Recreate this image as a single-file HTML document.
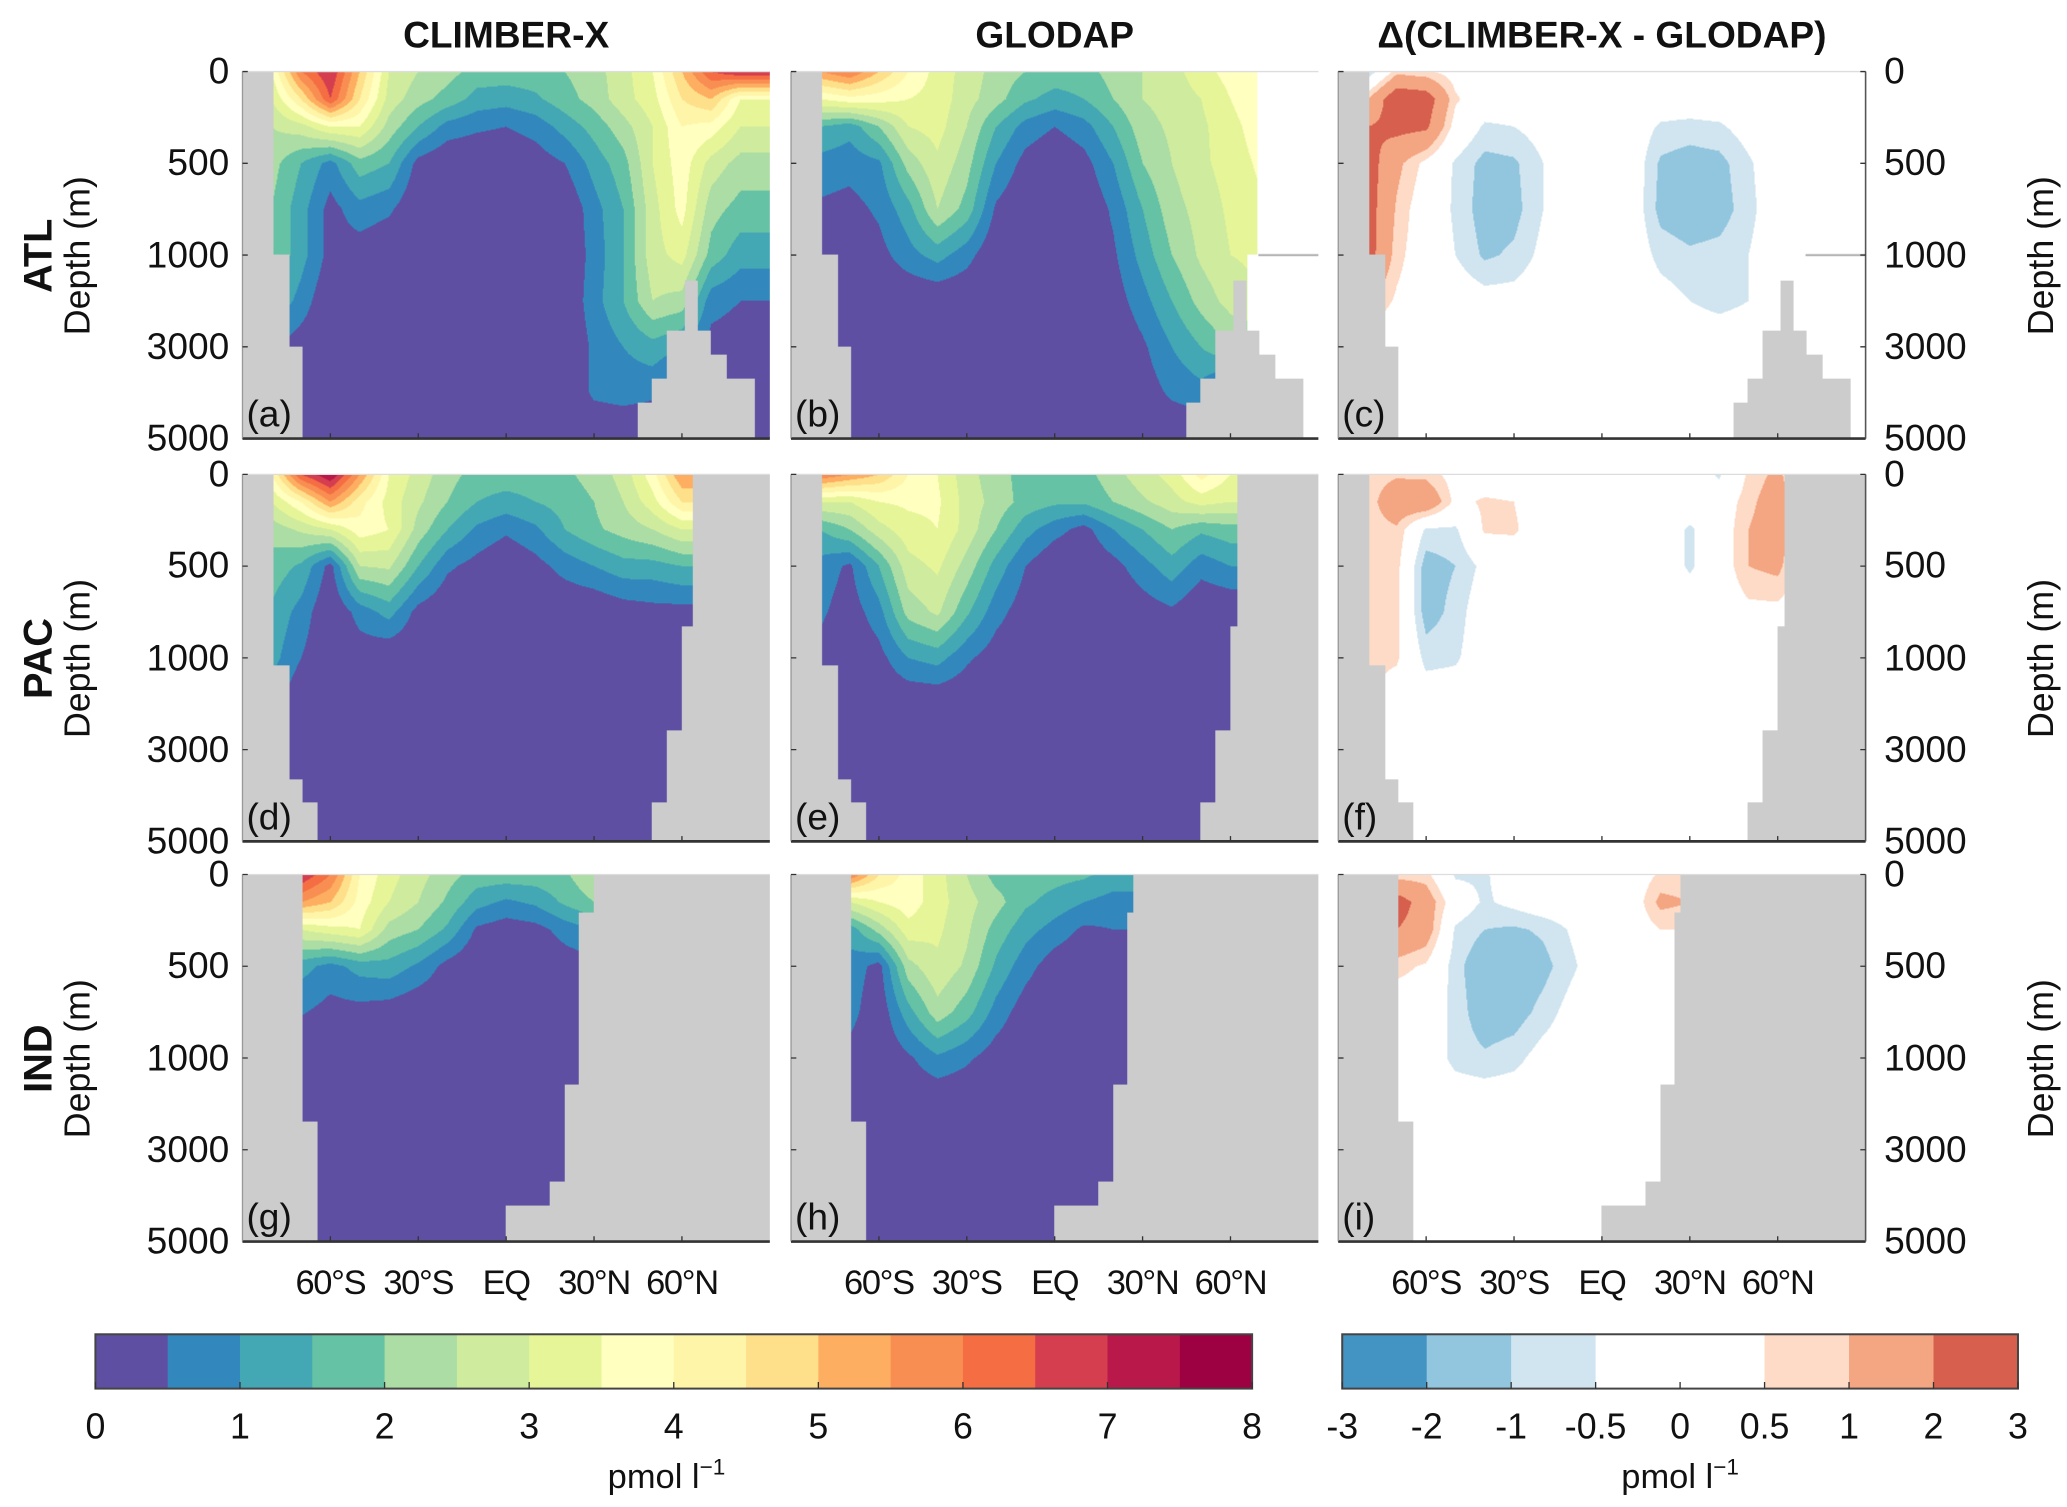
<!DOCTYPE html>
<html><head><meta charset="utf-8">
<style>
html,body{margin:0;padding:0;background:#fff;}
#wrap{width:2067px;height:1507px;overflow:hidden;position:relative;background:#fff;}
#stage{position:absolute;left:0;top:0;width:1560px;height:1138px;transform:scale(1.325);transform-origin:0 0;font-family:"Liberation Sans",sans-serif;color:#111;}
.t{position:absolute;white-space:nowrap;}
canvas{position:absolute;}
</style></head>
<body>
<div id="wrap">
<div id="stage"></div>
</div>
<script>
// ---------- DATA ----------
const latNodes = [-80,-70,-60,-50,-40,-30,-20,-10,0,10,20,30,40,50,60,70,80];
const depthNodes = [0,150,300,500,750,1000,2000,3000,4000,5000];

const fieldA = [
 [3.5,6,7,5,3,2.5,2.2,1.8,1.8,1.8,2,2.3,2.8,3.5,5,6.5,7],
 [3,4.5,6.5,4.5,2.8,2.2,1.8,1.3,1.2,1.4,1.8,2.2,2.8,3.3,4.5,5,3.5],
 [2.5,2.8,3.5,3.5,2.3,1.5,0.8,0.6,0.5,0.7,1.2,1.7,2.3,3,4,3.8,3],
 [2.2,1.5,0.8,1.8,1.5,0.3,0,0,0,0.2,0.5,1.2,1.8,3,3.8,2.8,2.3],
 [2,1.2,0.3,0.8,0.6,0,0,0,0,0,0,0.8,1.5,2.8,3.7,2.2,1.8],
 [2,1.2,0.3,0.2,0,0,0,0,0,0,0,0.7,1.5,2.8,3.2,1.8,1.2],
 [1.5,0.8,0,0,0,0,0,0,0,0,0,0.8,1.5,2.5,2.3,0.7,0.5],
 [0.5,0.2,0,0,0,0,0,0,0,0,0,0.6,1,1.3,1,0.3,0.2],
 [0,0,0,0,0,0,0,0,0,0,0,0.6,0.7,0.6,0,0,0],
 [0,0,0,0,0,0,0,0,0,0,0,0,0,0,0,0,0]
];
const fieldB = [
 [5.5,6,5,4,3.3,2.8,2.3,2,1.8,1.8,2.2,2.5,2.8,3.3,3.7,4,4],
 [3.5,3.8,3.7,3.5,3.3,2.7,2.2,1.6,1.3,1.5,2,2.5,2.7,3,3.5,4,4],
 [1.5,1.2,2,3,3.2,2.5,1.5,0.8,0.5,0.8,1.5,2.3,2.6,2.9,3.3,3.8,3.8],
 [0.8,0.7,0.9,2.2,2.9,2.2,1,0.3,0,0.3,1,2,2.5,2.9,3.2,3.6,3.6],
 [0.4,0.3,0.6,1.3,2.5,1.8,0.4,0,0,0,0.6,1.5,2.3,2.7,3.1,3.4,3.4],
 [0.2,0,0.3,0.8,1.2,0.7,0,0,0,0,0.4,1.2,2,2.6,3,3.1,3.1],
 [0,0,0,0,0,0,0,0,0,0,0.2,0.8,1.5,2.2,2.7,3,3],
 [0,0,0,0,0,0,0,0,0,0,0,0.4,1,1.5,2,2,2],
 [0,0,0,0,0,0,0,0,0,0,0,0.2,0.6,0.8,0,0,0],
 [0,0,0,0,0,0,0,0,0,0,0,0,0,0,0,0,0]
];
const fieldC = [
 [-1,0.8,0.6,0.2,0,0,0,0,0,0,0,0,0,0,0,0.2,1.2],
 [1,2.8,2.6,0.6,0,0,0,0,0,0,0,0,0,0,0,0,0.8],
 [2,2.3,2.2,0.2,-0.6,-0.5,-0.2,0,0,0,-0.6,-0.7,-0.6,-0.2,0,0,0.6],
 [2.5,1.2,0.3,-0.6,-1.2,-1.1,-0.5,0,0,0,-1.1,-1.3,-1.2,-0.6,0,0,0.4],
 [2.5,0.9,0,-0.6,-1.3,-1.2,-0.5,0,0,0,-1.2,-1.4,-1.3,-0.7,0,0,0.3],
 [2.5,0.7,0,-0.5,-1.1,-0.9,-0.3,0,0,0,-0.7,-0.9,-0.8,-0.5,0,0,0],
 [1,0.4,0,0,-0.2,-0.2,0,0,0,0,-0.2,-0.5,-0.7,-0.5,0,0,0],
 [0,0,0,0,0,0,0,0,0,0,0,0,0,0,0,0,0],
 [0,0,0,0,0,0,0,0,0,0,0,0,0,0,0,0,0],
 [0,0,0,0,0,0,0,0,0,0,0,0,0,0,0,0,0]
];
const fieldD = [
 [4,6.5,7.5,5.5,3.5,2.8,2.2,1.8,1.8,1.8,1.9,2.2,2.7,3.8,5.5,5.5,5.5],
 [3,4,5.5,4.2,3.3,2.6,2,1.5,1.3,1.5,1.7,2,2.5,3.3,4.5,4.5,4.5],
 [2.2,2.6,3,3.8,3.5,2.3,1.5,0.9,0.6,0.9,1.5,1.9,2.2,2.5,3,3,3],
 [1.8,1.4,0.3,2.5,2.6,1.5,0.6,0.3,0,0.3,0.7,1,1.3,1.3,1.5,1.5,1.5],
 [1.4,0.8,0,0.7,1.2,0.3,0,0,0,0,0,0,0.2,0.3,0.3,0.3,0.3],
 [1.2,0.5,0,0.2,0,0,0,0,0,0,0,0,0,0,0,0,0],
 [0.7,0,0,0,0,0,0,0,0,0,0,0,0,0,0,0,0],
 [0,0,0,0,0,0,0,0,0,0,0,0,0,0,0,0,0],
 [0,0,0,0,0,0,0,0,0,0,0,0,0,0,0,0,0],
 [0,0,0,0,0,0,0,0,0,0,0,0,0,0,0,0,0]
];
const fieldE = [
 [6,5.5,5,4,3.5,2.7,2.2,1.8,1.8,1.8,2.3,2.8,3.2,4.2,3.5,3.5,3.5],
 [3,3,3.5,3.6,3.6,2.8,2.3,1.8,1.6,1.6,2,2.4,2.8,3.2,3,3,3],
 [1.5,2,2.8,3.3,3.5,2.8,2,1.2,0.7,0.3,1,1.5,2,1.6,1.8,1.8,1.8],
 [0.8,0.4,1.5,2.8,3.1,2.3,1.3,0.5,0,0,0.3,0.8,1.3,0.7,1,1,1],
 [0.6,0.2,0.8,2.2,2.6,1.6,0.7,0.2,0,0,0,0.2,0.4,0,0,0,0],
 [0.3,0,0.3,1,1.2,0.6,0.2,0,0,0,0,0,0,0,0,0,0],
 [0,0,0,0,0,0,0,0,0,0,0,0,0,0,0,0,0],
 [0,0,0,0,0,0,0,0,0,0,0,0,0,0,0,0,0],
 [0,0,0,0,0,0,0,0,0,0,0,0,0,0,0,0,0],
 [0,0,0,0,0,0,0,0,0,0,0,0,0,0,0,0,0]
];
const fieldF = [
 [0.7,0.9,0.8,0.2,0,0,0,0,0,0,0,0,-0.6,0.6,1.2,0,0],
 [0.7,1.6,1.8,0.3,0.6,0.5,0,0,0,0,0,0,0,0.8,1.5,0,0],
 [0.7,0.9,-0.6,-0.6,0.6,0.6,0,0,0,0,0,-0.6,0,1,1.5,0,0],
 [0.7,0.7,-1.3,-1,-0.3,0,0,0,0,0,0,-0.6,0,1,1.2,0,0],
 [0.7,0.7,-1.3,-0.8,0,0,0,0,0,0,0,0,0,0.3,0.3,0,0],
 [0.7,0.6,-0.7,-0.6,0,0,0,0,0,0,0,0,0,0,0,0,0],
 [0.6,0,0,0,0,0,0,0,0,0,0,0,0,0,0,0,0],
 [0,0,0,0,0,0,0,0,0,0,0,0,0,0,0,0,0],
 [0,0,0,0,0,0,0,0,0,0,0,0,0,0,0,0,0],
 [0,0,0,0,0,0,0,0,0,0,0,0,0,0,0,0,0]
];
const fieldG = [
 [7,7,6,4,3.2,2.7,2.2,1.8,1.8,1.8,1.9,2.5,2.5,2.5,2.5,2.5,2.5],
 [5.5,5.5,5,3.8,3,2.5,1.9,1.2,0.9,1.1,1.6,2,2,2,2,2,2],
 [3,3,3.3,3.5,2.3,2,1.4,0.4,0.2,0.3,0.7,1,1,1,1,1,1],
 [1.2,1.2,0.8,1.2,1.3,0.9,0.3,0,0,0,0.2,0.3,0.3,0.3,0.3,0.3,0.3],
 [0.55,0.55,0.3,0.3,0.2,0,0,0,0,0,0,0,0,0,0,0,0],
 [0,0,0,0,0,0,0,0,0,0,0,0,0,0,0,0,0],
 [0,0,0,0,0,0,0,0,0,0,0,0,0,0,0,0,0],
 [0,0,0,0,0,0,0,0,0,0,0,0,0,0,0,0,0],
 [0,0,0,0,0,0,0,0,0,0,0,0,0,0,0,0,0],
 [0,0,0,0,0,0,0,0,0,0,0,0,0,0,0,0,0]
];
const fieldH = [
 [6,6,4.5,3.8,3.2,2.5,1.8,1.8,1.7,1.6,1.3,1.3,1.3,1.3,1.3,1.3,1.3],
 [3,3,3.5,3.8,3.2,2.7,2.2,1.6,1.3,1,0.8,0.8,0.8,0.8,0.8,0.8,0.8],
 [1.2,1.2,2.2,3.3,3.1,2.6,1.8,1.2,0.8,0.4,0.5,0.5,0.5,0.5,0.5,0.5,0.5],
 [0.8,0.8,0.3,2.3,2.9,2.4,1.4,0.7,0.2,0,0,0,0,0,0,0,0],
 [0.7,0.7,0.1,1.3,2.3,1.7,0.8,0.2,0,0,0,0,0,0,0,0,0],
 [0.3,0.3,0,0.4,0.9,0.6,0.2,0,0,0,0,0,0,0,0,0,0],
 [0,0,0,0,0,0,0,0,0,0,0,0,0,0,0,0,0],
 [0,0,0,0,0,0,0,0,0,0,0,0,0,0,0,0,0],
 [0,0,0,0,0,0,0,0,0,0,0,0,0,0,0,0,0],
 [0,0,0,0,0,0,0,0,0,0,0,0,0,0,0,0,0]
];
const fieldI = [
 [0.7,0.7,0.7,-0.6,-0.6,0,0,0,0,0,0.6,0.6,0,0,0,0,0],
 [2.5,2.5,1.5,0,-0.6,-0.3,0,0,0,0,1.2,1,0,0,0,0,0],
 [2,2,1.5,-0.6,-1,-1.1,-0.9,-0.4,0,0,0.5,0.5,0,0,0,0,0],
 [0.7,0.7,0.4,-0.8,-1.5,-1.5,-1.2,-0.6,0,0,0,0,0,0,0,0,0],
 [0,0,0,-0.7,-1.4,-1.3,-0.8,-0.2,0,0,0,0,0,0,0,0,0],
 [0,0,0,-0.7,-0.9,-0.7,-0.2,0,0,0,0,0,0,0,0,0,0],
 [0,0,0,0,0,0,0,0,0,0,0,0,0,0,0,0,0],
 [0,0,0,0,0,0,0,0,0,0,0,0,0,0,0,0,0],
 [0,0,0,0,0,0,0,0,0,0,0,0,0,0,0,0,0],
 [0,0,0,0,0,0,0,0,0,0,0,0,0,0,0,0,0]
];

// land: [lat1, lat2, depthTop, depthBottom]
const landATL = [[-90,-80,0,1000],[-90,-74.5,1000,3000],[-90,-70,3000,5000],
 [61,65,1560,2650],[55,69.5,2650,3190],[55,75,3190,3700],[50,84.6,3700,4230],[45,84.6,4230,5000]];
const landPAC = [[-90,-80,0,1180],[-90,-74.5,1180,3660],[-90,-70,3660,4170],[-90,-65,4170,5000],
 [64,90,0,830],[60,90,830,2590],[55,90,2590,4170],[50,90,4170,5000]];
const landPACobs = [[-90,-80,0,1180],[-90,-74.5,1180,3660],[-90,-70,3660,4170],[-90,-65,4170,5000],
 [62.6,90,0,830],[60,90,830,2590],[55,90,2590,4170],[50,90,4170,5000]];
const landIND = [[-90,-70,0,2400],[-90,-65,2400,5000],
 [30,90,0,210],[25,90,210,1580],[20,90,1580,3700],[15,90,3700,4230],[0,90,4230,5000]];
const landINDobs = [[-90,-70,0,2400],[-90,-65,2400,5000],
 [27,90,0,210],[25,90,210,1580],[20,90,1580,3700],[15,90,3700,4230],[0,90,4230,5000]];
const noDataATL = [[69.5,90,0,1000],[66,90,1000,5000]];

const absLevels = [0,0.5,1,1.5,2,2.5,3,3.5,4,4.5,5,5.5,6,6.5,7,7.5,8];
const absColors = ["#5e4fa2","#3288bd","#43a8b4","#66c2a5","#abdda4","#cfeb9e","#e6f598","#ffffbf","#fff5a8","#fee08b","#fdae61","#f98e52","#f46d43","#d53e4f","#b8194a","#9e0142"];
const absTicks = ["0","1","2","3","4","5","6","7","8"];
const diffLevels = [-3,-2,-1,-0.5,0,0.5,1,2,3];
const diffColors = ["#4393c3","#92c5de","#d1e5f0","#ffffff","#ffffff","#fddbc7","#f4a582","#d6604d"];
const diffTicks = ["-3","-2","-1","-0.5","0","0.5","1","2","3"];
const latTicks = [-60,-30,0,30,60];
const latTickLabels = ["60°S","30°S","EQ","30°N","60°N"];
const depthTicks = [0,500,1000,3000,5000];

// ---------- LAYOUT ----------
const stage = document.getElementById('stage');
const colX = [183,597,1010], rowY = [54,358,660], PW = 398, PH = 277;
const RES = 1.325;
function depthFrac(d){ return d<=1000 ? d/2000 : 0.5+(d-1000)/8000; }
function fracDepth(f){ return f<=0.5 ? f*2000 : 1000+(f-0.5)*8000; }
function xOf(col,lat){ return colX[col]+(lat+90)/180*PW; }
function yOf(row,d){ return rowY[row]+depthFrac(d)*PH; }

function sample(field, lat, d){
  let li = 0, lt;
  if(lat<=latNodes[0]){ li=0; lt=0; }
  else if(lat>=latNodes[latNodes.length-1]){ li=latNodes.length-2; lt=1; }
  else { while(latNodes[li+1]<lat) li++; lt=(lat-latNodes[li])/(latNodes[li+1]-latNodes[li]); }
  let di=0; while(di<depthNodes.length-2 && depthNodes[di+1]<d) di++;
  let dt=(d-depthNodes[di])/(depthNodes[di+1]-depthNodes[di]); dt=Math.max(0,Math.min(1,dt));
  const a=field[di][li], b=field[di][li+1], c=field[di+1][li], e=field[di+1][li+1];
  return (a*(1-lt)+b*lt)*(1-dt)+(c*(1-lt)+e*lt)*dt;
}
function colorFor(v, levels, colors){
  for(let i=0;i<colors.length;i++){ if(v<levels[i+1]) return colors[i]; }
  return colors[colors.length-1];
}
function hexRGB(h){ return [parseInt(h.substr(1,2),16),parseInt(h.substr(3,2),16),parseInt(h.substr(5,2),16)]; }

function addText(txt, x, y, size, opts){
  const el=document.createElement('div');
  el.className='t'; el.textContent=txt;
  el.style.fontSize=size+'px';
  el.style.left=x+'px'; el.style.top=y+'px';
  if(opts&&opts.bold) el.style.fontWeight='bold';
  if(opts&&opts.anchor==='middle') el.style.transform='translate(-50%,-50%)';
  if(opts&&opts.anchor==='right') el.style.transform='translate(-100%,-50%)';
  if(opts&&opts.anchor==='left') el.style.transform='translate(0,-50%)';
  if(opts&&opts.rot) el.style.transform='translate(-50%,-50%) rotate(-90deg)';
  stage.appendChild(el);
  return el;
}

function drawPanel(col,row,field,levels,colors,land,noData,letter,name){
  const cv=document.createElement('canvas');
  const cw=Math.round(PW*RES), ch=Math.round(PH*RES);
  cv.width=cw; cv.height=ch;
  cv.style.left=colX[col]+'px'; cv.style.top=rowY[row]+'px';
  cv.style.width=PW+'px'; cv.style.height=PH+'px';
  
  
  stage.appendChild(cv);
  const ctx=cv.getContext('2d');
  const img=ctx.createImageData(cw,ch);
  const cache={};
  for(let py=0;py<ch;py++){
    const d=fracDepth((py+0.5)/ch);
    for(let px=0;px<cw;px++){
      const lat=-90+(px+0.5)/cw*180;
      const v=sample(field,lat,d);
      const c=colorFor(v,levels,colors);
      const rgb=cache[c]||(cache[c]=hexRGB(c));
      const k=(py*cw+px)*4;
      img.data[k]=rgb[0]; img.data[k+1]=rgb[1]; img.data[k+2]=rgb[2]; img.data[k+3]=255;
    }
  }
  ctx.putImageData(img,0,0);
  function rect(r,fill){
    const x1=(r[0]+90)/180*cw, x2=(r[1]+90)/180*cw;
    const y1=depthFrac(r[2])*ch, y2=depthFrac(r[3])*ch;
    ctx.fillStyle=fill; ctx.fillRect(Math.floor(x1),Math.floor(y1),Math.ceil(x2-x1)+1,Math.ceil(y2-y1)+1);
  }
  if(noData){ noData.forEach(r=>rect(r,'#ffffff'));
    ctx.strokeStyle='#999'; ctx.lineWidth=1.5; ctx.beginPath();
    const y=depthFrac(1000)*ch; ctx.moveTo((69.5+90)/180*cw,y); ctx.lineTo(cw,y); ctx.stroke(); }
  land.forEach(r=>rect(r,'#cccccc'));

  const svgNS='http://www.w3.org/2000/svg';
  const svg=document.createElementNS(svgNS,'svg');
  svg.setAttribute('width',PW+20); svg.setAttribute('height',PH+10);
  svg.style.position='absolute'; svg.style.left=(colX[col]-10)+'px'; svg.style.top=(rowY[row]-5)+'px';
  
  
  const ox=10, oy=5;
  function line(x1,y1,x2,y2,st,w){ const l=document.createElementNS(svgNS,'line');
    l.setAttribute('x1',x1);l.setAttribute('y1',y1);l.setAttribute('x2',x2);l.setAttribute('y2',y2);
    l.setAttribute('stroke',st);l.setAttribute('stroke-width',w); svg.appendChild(l); return l; }
  line(ox,oy+PH,ox+PW,oy+PH,'#333',2);
  line(ox,oy,ox+PW,oy,'#ddd',1);
  line(ox,oy,ox,oy+PH,'#999',1);
  if(col===2) line(ox+PW,oy,ox+PW,oy+PH,'#555',1.2);
  latTicks.forEach(lt=>{ const x=ox+(lt+90)/180*PW; line(x,oy+PH,x,oy+PH-4,'#333',1); });
  depthTicks.forEach(dt=>{ const y=oy+depthFrac(dt)*PH; line(ox,y,ox+4,y,'#333',1);
    if(col===2) line(ox+PW,y,ox+PW-4,y,'#333',1); });
  stage.appendChild(svg);
  const lb=addText('('+letter+')', colX[col]+3, rowY[row]+PH-18, 28, {anchor:'left'});
  
  
}

const titles=["CLIMBER-X","GLODAP","Δ(CLIMBER-X - GLODAP)"];
titles.forEach((t,i)=>{ const el=addText(t, colX[i]+PW/2, 27, 28, {bold:true,anchor:'middle'});
  
   });

const rowNames=["ATL","PAC","IND"];
rowNames.forEach((r,i)=>{
  const cy=rowY[i]+PH/2;
  const a=addText(r, 30, cy, 30, {bold:true,rot:true});
  
  
  const b=addText('Depth (m)', 59, cy, 27, {rot:true});
  
  
  const c=addText('Depth (m)', 1541, cy, 27, {rot:true});
  
  
  depthTicks.forEach(dt=>{
    const y=yOf(i,dt);
    const t1=addText(String(dt), 173, y, 28, {anchor:'right'});
    
    
    const t2=addText(String(dt), 1422, y, 28, {anchor:'left'});
    
    
  });
});

drawPanel(0,0,fieldA,absLevels,absColors,landATL,null,'a','panel-atl-climber');
drawPanel(1,0,fieldB,absLevels,absColors,landATL,noDataATL,'b','panel-atl-glodap');
drawPanel(2,0,fieldC,diffLevels,diffColors,landATL,noDataATL,'c','panel-atl-diff');
drawPanel(0,1,fieldD,absLevels,absColors,landPAC,null,'d','panel-pac-climber');
drawPanel(1,1,fieldE,absLevels,absColors,landPACobs,null,'e','panel-pac-glodap');
drawPanel(2,1,fieldF,diffLevels,diffColors,landPACobs,null,'f','panel-pac-diff');
drawPanel(0,2,fieldG,absLevels,absColors,landIND,null,'g','panel-ind-climber');
drawPanel(1,2,fieldH,absLevels,absColors,landINDobs,null,'h','panel-ind-glodap');
drawPanel(2,2,fieldI,diffLevels,diffColors,landINDobs,null,'i','panel-ind-diff');

for(let c=0;c<3;c++){
  latTicks.forEach((lt,k)=>{
    const el=addText(latTickLabels[k], xOf(c,lt), 968, 26, {anchor:'middle'});
    el.style.letterSpacing='-1px';
    
    
  });
}

function colorbar(x0,x1,y0,y1,colors,ticks,name,unitX){
  const svgNS='http://www.w3.org/2000/svg';
  const svg=document.createElementNS(svgNS,'svg');
  svg.setAttribute('width',x1-x0+4); svg.setAttribute('height',y1-y0+4);
  svg.style.position='absolute'; svg.style.left=(x0-2)+'px'; svg.style.top=(y0-2)+'px';
  
  
  const w=(x1-x0)/colors.length;
  colors.forEach((c,i)=>{ const r=document.createElementNS(svgNS,'rect');
    r.setAttribute('x',2+i*w); r.setAttribute('y',2); r.setAttribute('width',w+0.5); r.setAttribute('height',y1-y0);
    r.setAttribute('fill',c);
    
    
    svg.appendChild(r); });
  const fr=document.createElementNS(svgNS,'rect');
  fr.setAttribute('x',2);fr.setAttribute('y',2);fr.setAttribute('width',x1-x0);fr.setAttribute('height',y1-y0);
  fr.setAttribute('fill','none');fr.setAttribute('stroke','#444');fr.setAttribute('stroke-width',1.5);
  svg.appendChild(fr);
  const tw=(x1-x0)/(ticks.length-1);
  ticks.forEach((t,i)=>{ const l=document.createElementNS(svgNS,'line');
    const x=2+i*tw; l.setAttribute('x1',x);l.setAttribute('x2',x);l.setAttribute('y1',2+(y1-y0));l.setAttribute('y2',2+(y1-y0)-5);
    l.setAttribute('stroke','#333'); svg.appendChild(l);
    const el=addText(t, x0+i*tw, 1077, 27, {anchor:'middle'});
    
     });
  stage.appendChild(svg);
  const u=document.createElement('div'); u.className='t';
  u.innerHTML='pmol l<sup style="font-size:17px;vertical-align:10px">−1</sup>';
  u.style.fontSize='26px'; u.style.left=unitX+'px'; u.style.top='1114px'; u.style.transform='translate(-50%,-50%)';
  
  
  stage.appendChild(u);
}
colorbar(72,945,1007,1048,absColors,absTicks,'colorbar-absolute',503);
colorbar(1013,1523,1007,1048,diffColors,diffTicks,'colorbar-difference',1268);
</script>
</body></html>
